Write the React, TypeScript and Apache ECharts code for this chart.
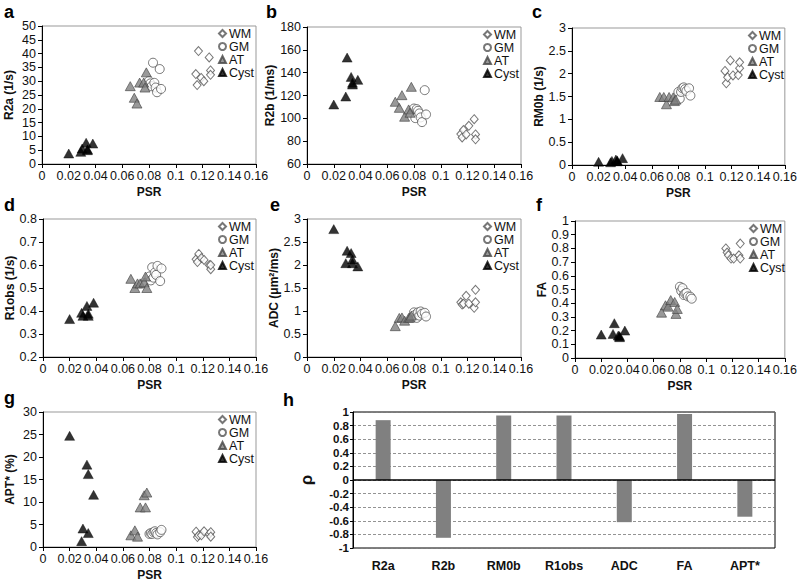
import React, { useEffect, useRef } from "react";
import * as echarts from "echarts";

// PSR (x) values per tissue class
const PSR_WM = [0.115, 0.116, 0.117, 0.119, 0.121, 0.125, 0.126, 0.126];
const PSR_GM = [0.08, 0.081, 0.082, 0.083, 0.084, 0.085, 0.086, 0.088, 0.089];
const PSR_AT = [0.066, 0.069, 0.071, 0.073, 0.076, 0.077, 0.078];
const PSR_CYST = [0.02, 0.029, 0.03, 0.033, 0.034, 0.034, 0.038];

// panel a: R2a (1/s)
const R2A_WM = [32.6, 28.6, 40.9, 31.2, 30.0, 38.6, 33.9, 32.3];
const R2A_GM = [30.1, 29.2, 28.2, 36.7, 29.4, 27.7, 26.0, 34.4, 27.2];
const R2A_AT = [28.2, 24.0, 21.9, 29.5, 29.5, 27.7, 33.2];
const R2A_CYST = [3.8, 4.4, 5.6, 7.7, 5.3, 5.0, 7.4];
// panel b: R2b (1/ms)
const R2B_WM = [86.2, 83.3, 89.7, 85.9, 93.5, 99.3, 85.9, 81.6];
const R2B_GM = [108.6, 100.2, 108.1, 106.6, 104.3, 100.8, 96.7, 124.7, 103.4];
const R2B_AT = [114.5, 109.2, 120.3, 101.4, 107.8, 104.9, 127.6];
const R2B_CYST = [112.1, 119.1, 153.2, 136.3, 131.1, 129.6, 133.7];
// panel c: RM0b (1/s)
const RM0B_WM = [2.06, 1.79, 1.92, 2.29, 1.96, 1.97, 2.12, 2.25];
const RM0B_GM = [1.6, 1.45, 1.6, 1.68, 1.7, 1.66, 1.62, 1.68, 1.52];
const RM0B_AT = [1.49, 1.49, 1.33, 1.49, 1.48, 1.4, 1.43];
const RM0B_CYST = [0.07, 0.06, 0.09, 0.12, 0.08, 0.1, 0.15];
// panel d: R1obs (1/s)
const R1_WM = [0.625, 0.613, 0.648, 0.63, 0.622, 0.599, 0.582, 0.6];
const R1_GM = [0.55, 0.533, 0.59, 0.545, 0.567, 0.557, 0.596, 0.53, 0.585];
const R1_AT = [0.54, 0.5, 0.52, 0.52, 0.525, 0.55, 0.5];
const R1_CYST = [0.365, 0.392, 0.379, 0.422, 0.388, 0.379, 0.436];
// panel e: ADC (um2/ms)
const ADC_WM = [1.19, 1.14, 1.16, 1.33, 1.16, 1.07, 1.46, 1.19];
const ADC_GM = [0.97, 0.92, 0.85, 0.97, 0.9, 0.99, 0.94, 0.96, 0.88];
const ADC_AT = [0.67, 0.85, 0.86, 0.79, 0.85, 0.86, 0.9];
const ADC_CYST = [2.78, 2.04, 2.31, 2.26, 2.12, 2.04, 1.97];
// panel f: FA
const FA_WM = [0.8, 0.77, 0.75, 0.726, 0.726, 0.75, 0.835, 0.726];
const FA_GM = [0.52, 0.49, 0.51, 0.46, 0.47, 0.475, 0.45, 0.447, 0.433];
const FA_AT = [0.331, 0.385, 0.375, 0.423, 0.409, 0.322, 0.358];
const FA_CYST = [0.171, 0.176, 0.254, 0.164, 0.152, 0.16, 0.2];
// panel g: APT* (%)
const APT_WM = [3.4, 2.2, 2.6, 2.6, 3.5, 2.9, 3.3, 2.3];
const APT_GM = [2.9, 3.1, 2.9, 3.3, 3.5, 3.1, 2.8, 3.3, 3.8];
const APT_AT = [2.6, 3.7, 2.3, 8.8, 11.5, 8.8, 12.1];
const APT_CYST = [24.7, 1.3, 4.1, 18.3, 16.2, 3.1, 11.6];

// panel h: Spearman rho
const RHO_CATS = ["R2a", "R2b", "RM0b", "R1obs", "ADC", "FA", "APT*"];
const RHO_VALUES = [0.88, -0.85, 0.95, 0.95, -0.62, 0.97, -0.54];

const SERIES_NAMES = ["WM", "GM", "AT", "Cyst"];
const X_TICKS = { min: 0, max: 0.16, interval: 0.02 };

const FONT = "'Liberation Sans', Arial, sans-serif";

const PANELS = [
  { yName: "R2a (1/s)", yMin: 0, yMax: 50, yInt: 5, data: [R2A_WM, R2A_GM, R2A_AT, R2A_CYST] },
  { yName: "R2b (1/ms)", yMin: 60, yMax: 180, yInt: 20, data: [R2B_WM, R2B_GM, R2B_AT, R2B_CYST] },
  { yName: "RM0b (1/s)", yMin: 0, yMax: 3, yInt: 0.5, data: [RM0B_WM, RM0B_GM, RM0B_AT, RM0B_CYST] },
  { yName: "R1obs (1/s)", yMin: 0.2, yMax: 0.8, yInt: 0.1, data: [R1_WM, R1_GM, R1_AT, R1_CYST] },
  { yName: "ADC (μm²/ms)", yMin: 0, yMax: 3, yInt: 0.5, data: [ADC_WM, ADC_GM, ADC_AT, ADC_CYST] },
  { yName: "FA", yMin: 0, yMax: 1, yInt: 0.1, data: [FA_WM, FA_GM, FA_AT, FA_CYST] },
  { yName: "APT* (%)", yMin: 0, yMax: 30, yInt: 5, data: [APT_WM, APT_GM, APT_AT, APT_CYST] },
];
const PSR_SETS = [PSR_WM, PSR_GM, PSR_AT, PSR_CYST];
const PANEL_LETTERS = ["a", "b", "c", "d", "e", "f", "g", "h"];

// layout (pixels)
const GRIDS = [
  { left: 42, top: 26, width: 214, height: 138 },
  { left: 307, top: 27, width: 214, height: 137 },
  { left: 572, top: 28, width: 214, height: 137 },
  { left: 43, top: 219, width: 213, height: 138 },
  { left: 307, top: 219, width: 214, height: 138 },
  { left: 575, top: 221, width: 212, height: 137 },
  { left: 43, top: 412, width: 213, height: 136 },
];
const GRID_H = { left: 353, top: 412, width: 422, height: 136 };
const LABEL_POS = [
  [4, 3], [266, 3], [532, 3], [4, 196], [270, 196], [536, 196], [4, 389], [283, 391],
];

const MARKERS = [
  { symbol: "diamond", symbolSize: [8, 9], itemStyle: { color: "#fff", borderColor: "#555", borderWidth: 1 } },
  { symbol: "circle", symbolSize: 9, itemStyle: { color: "#fff", borderColor: "#555", borderWidth: 1 } },
  { symbol: "triangle", symbolSize: [10, 9], itemStyle: { color: "#808080", borderColor: "#444", borderWidth: 0.8 } },
  { symbol: "triangle", symbolSize: [10, 9], itemStyle: { color: "#000", borderColor: "#000", borderWidth: 0.5 } },
];

export default function App() {
  const ref = useRef<HTMLDivElement>(null);
  useEffect(() => {
    if (!ref.current) return;
    const chart = echarts.init(ref.current, null, { renderer: "svg" });

    const grid: any[] = [];
    const xAxis: any[] = [];
    const yAxis: any[] = [];
    const series: any[] = [];
    const legend: any[] = [];

    PANELS.forEach((p, i) => {
      const g = GRIDS[i];
      grid.push({ ...g, show: true, borderColor: "#999", borderWidth: 1, backgroundColor: "transparent" });
      xAxis.push({
        type: "value",
        gridIndex: i,
        ...X_TICKS,
        name: "PSR",
        nameLocation: "middle",
        nameGap: 22,
        nameTextStyle: { fontFamily: FONT, fontWeight: "bold", fontSize: 12, color: "#111" },
        axisLine: { show: true, onZero: false, lineStyle: { color: "#000", width: 1 } },
        axisTick: { show: true, length: 4, lineStyle: { color: "#000" } },
        axisLabel: { fontFamily: FONT, fontSize: 12.5, color: "#111", margin: 5 },
        splitLine: { show: false },
      });
      yAxis.push({
        type: "value",
        gridIndex: i,
        min: p.yMin,
        max: p.yMax,
        interval: p.yInt,
        name: p.yName,
        nameLocation: "middle",
        nameGap: 27,
        nameTextStyle: { fontFamily: FONT, fontWeight: "bold", fontSize: 12, color: "#111" },
        axisLine: { show: true, onZero: false, lineStyle: { color: "#000", width: 1 } },
        axisTick: { show: true, length: 4, lineStyle: { color: "#000" } },
        axisLabel: { fontFamily: FONT, fontSize: 12.5, color: "#111", margin: 6 },
        splitLine: { show: false },
      });
      SERIES_NAMES.forEach((name, k) => {
        series.push({
          type: "scatter",
          name,
          xAxisIndex: i,
          yAxisIndex: i,
          ...MARKERS[k],
          data: p.data[k].map((v, j) => [PSR_SETS[k][j], v]),
        });
      });
      legend.push({
        data: SERIES_NAMES,
        orient: "vertical",
        left: g.left + g.width - 38,
        top: g.top + 1,
        itemWidth: 7,
        itemHeight: 7,
        itemGap: 0,
        padding: 0,
        selectedMode: false,
        textStyle: { fontFamily: FONT, fontSize: 12.5, color: "#111", lineHeight: 13, padding: [0, 0, 0, -2] },
      });
    });

    // panel h
    const hi = PANELS.length;
    grid.push({ ...GRID_H, show: true, borderColor: "#000", borderWidth: 1 });
    xAxis.push({
      type: "category",
      gridIndex: hi,
      data: RHO_CATS,
      axisLine: { show: false },
      axisTick: { show: false },
      axisLabel: { fontFamily: FONT, fontSize: 12.5, fontWeight: "bold", color: "#111", margin: 11 },
    });
    yAxis.push({
      type: "value",
      gridIndex: hi,
      min: -1,
      max: 1,
      interval: 0.2,
      name: "ρ",
      nameLocation: "middle",
      nameGap: 38,
      nameTextStyle: { fontFamily: FONT, fontWeight: "bold", fontSize: 17, color: "#111" },
      axisLine: { show: true, lineStyle: { color: "#000" } },
      axisTick: { show: true, length: 3, lineStyle: { color: "#000" } },
      axisLabel: { fontFamily: FONT, fontSize: 11.5, fontWeight: "bold", color: "#111", margin: 4 },
      splitLine: { show: true, lineStyle: { color: "#777", type: [3, 2], width: 0.8 } },
    });
    series.push({
      type: "bar",
      name: "rho",
      xAxisIndex: hi,
      yAxisIndex: hi,
      data: RHO_VALUES,
      barWidth: 15,
      itemStyle: { color: "#808080" },
      markLine: {
        silent: true,
        symbol: "none",
        label: { show: false },
        lineStyle: { color: "#000", type: "solid", width: 1.5 },
        data: [{ yAxis: 0 }],
      },
    });

    const graphic = LABEL_POS.map(([x, y], i) => ({
      type: "text",
      left: x,
      top: y,
      style: {
        text: PANEL_LETTERS[i],
        font: `bold 18px ${FONT}`,
        fill: "#000",
      },
    }));

    chart.setOption({
      animation: false,
      backgroundColor: "#fff",
      grid,
      xAxis,
      yAxis,
      series,
      legend,
      graphic,
    });
    return () => chart.dispose();
  }, []);
  return (
    <div
      ref={ref}
      style={{ position: "absolute", left: 0, top: 0, width: 800, height: 582 }}
    />
  );
}
